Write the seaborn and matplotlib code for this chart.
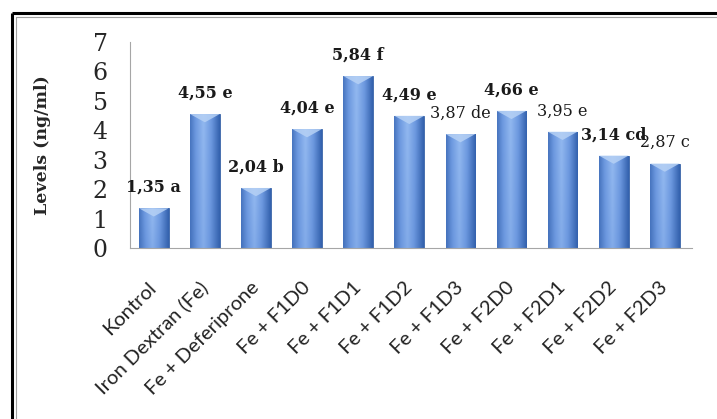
import matplotlib
matplotlib.use('Agg')
import matplotlib.pyplot as plt
import matplotlib.transforms as mtransforms
from matplotlib.colors import LinearSegmentedColormap
from matplotlib.lines import Line2D
from matplotlib.patches import Polygon
import numpy as np
import pandas as pd
import seaborn as sns

treatments = ['Kontrol', 'Iron Dextran (Fe)', 'Fe + Deferiprone', 'Fe + F1D0', 'Fe + F1D1',
              'Fe + F1D2', 'Fe + F1D3', 'Fe + F2D0', 'Fe + F2D1', 'Fe + F2D2', 'Fe + F2D3']
levels = [1.35, 4.55, 2.04, 4.04, 5.84, 4.49, 3.87, 4.66, 3.95, 3.14, 2.87]
letters = ['a', 'e', 'b', 'e', 'f', 'e', 'de', 'e', 'e', 'cd', 'c']

df = pd.DataFrame({'treatment': treatments, 'level': levels, 'letter': letters})

sns.set_style('white')
fig = plt.figure(figsize=(7.17, 4.19), dpi=100)
ax = fig.add_axes([0.181, 0.408, 0.784, 0.492])
sns.barplot(data=df, x='treatment', y='level', color='#4f81bd', saturation=1,
            width=0.58, edgecolor='#3a64a8', linewidth=0.6, ax=ax)
ax.set_xlim(-0.47, 10.53)
ax.set_ylim(0, 7)

# cylinder-like shading: dark edges, light centre, lighter bevel at the top
cmap = LinearSegmentedColormap.from_list('bar', ['#3361ad', '#6c98df', '#93b9f0'])
across = 1 - np.abs(np.linspace(0, 1, 64) - 0.45) / 0.55
down = np.linspace(1.0, 0.8, 64)[:, None]
shade = np.clip(across[None, :] * down, 0, 1)
bars = list(ax.patches)
for bar in bars:
    x0, w, h = bar.get_x(), bar.get_width(), bar.get_height()
    im = ax.imshow(shade, cmap=cmap, vmin=0, vmax=1, extent=[x0, x0 + w, 0, h],
                   aspect='auto', interpolation='bicubic', zorder=2)
    im.set_clip_path(bar)
    ax.add_patch(Polygon([(x0, h), (x0 + w, h), (x0 + w / 2, h - 0.28)],
                         closed=True, fc='#b6d1f5', ec='none', alpha=0.85, zorder=3))
ax.set_xlim(-0.47, 10.53)
ax.set_ylim(0, 7)

# value labels with significance letters
bold_labels = [True, True, True, True, True, True, False, True, False, True, False]
for bar, v, letter, bold in zip(bars, df['level'], df['letter'], bold_labels):
    ax.annotate(f'{v:.2f}'.replace('.', ',') + ' ' + letter,
                (bar.get_x() + bar.get_width() / 2, v), xytext=(0, 15),
                textcoords='offset points', ha='center', va='center',
                fontfamily='DejaVu Serif', fontsize=11.5,
                fontweight='bold' if bold else 'normal', color='#1a1a1a')

ax.set_yticks(range(8))
ax.tick_params(axis='y', length=0, pad=16, labelsize=17)
for t in ax.get_yticklabels():
    t.set_fontfamily('DejaVu Serif')

ax.tick_params(axis='x', length=0, pad=22)
ax.set_xticks(range(len(treatments)))
ax.set_xticklabels(treatments, rotation=45, ha='right', fontfamily='Lato', fontsize=14.5,
                   color='#222222')
shift = mtransforms.ScaledTranslation(6 / 100, 0, fig.dpi_scale_trans)
for t in ax.get_xticklabels():
    t.set_transform(t.get_transform() + shift)

ax.set_xlabel('')
ax.set_ylabel('Levels (ng/ml)', fontfamily='DejaVu Serif', fontweight='bold', fontsize=12.5)
ax.yaxis.set_label_coords(-0.14, 0.5)

sns.despine(ax=ax)
for side in ['left', 'bottom']:
    ax.spines[side].set_color('#a6a6a6')
    ax.spines[side].set_linewidth(0.8)

# frame around the figure (open at right and bottom)
top, left = 1 - 13 / 419, 11.5 / 717
fig.add_artist(Line2D([left, 1], [top, top], transform=fig.transFigure, color='black',
                      lw=2.2, solid_capstyle='butt'))
fig.add_artist(Line2D([left, left], [0, top], transform=fig.transFigure, color='black',
                      lw=2.2, solid_capstyle='butt'))
top2, left2 = 1 - 17 / 419, 15.5 / 717
fig.add_artist(Line2D([left2, 1], [top2, top2], transform=fig.transFigure, color='#a0a0a0',
                      lw=0.8))
fig.add_artist(Line2D([left2, left2], [0, top2], transform=fig.transFigure, color='#a0a0a0',
                      lw=0.8))

fig.savefig('out.png', dpi=100)
